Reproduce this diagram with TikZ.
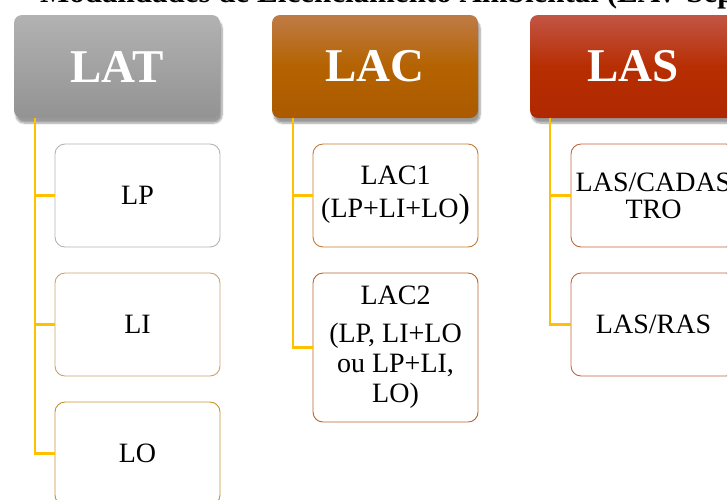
\documentclass[tikz,border=0pt]{standalone}
\usepackage{fontspec}
\setmainfont{Liberation Serif}
\usetikzlibrary{shadows.blur}
\definecolor{connY}{HTML}{FFC000}
\definecolor{latTop}{HTML}{B2B2B2}
\definecolor{latBot}{HTML}{939393}
\definecolor{lacTop}{HTML}{BE7B46}
\definecolor{lacMid}{HTML}{B56300}
\definecolor{lacBot}{HTML}{AB5A00}
\definecolor{lasTop}{HTML}{C25545}
\definecolor{lasMid}{HTML}{B72E02}
\definecolor{lasBot}{HTML}{B02800}
\definecolor{bLP}{HTML}{B4B4B4}
\definecolor{bLI}{HTML}{C8A46C}
\definecolor{bLO}{HTML}{C8922E}
\definecolor{bLACa}{HTML}{C27B34}
\definecolor{bLACb}{HTML}{B8652A}
\definecolor{bLAS}{HTML}{C2653E}
\tikzset{
  header/.style={rounded corners=8pt, minimum width=206pt, minimum height=103pt,
    inner sep=0pt, text=white, font=\fontsize{47}{47}\selectfont\bfseries,
    blur shadow={shadow xshift=2pt, shadow yshift=-5pt, shadow blur steps=8, shadow opacity=40}},
  leaf/.style={draw, line width=0.9pt, rounded corners=10pt, fill=white,
    minimum width=165pt, minimum height=103pt, inner sep=2pt, align=center,
    font=\fontsize{28}{30}\selectfont},
  conn/.style={draw=connY, line width=2.4pt}
}
\begin{document}
\begin{tikzpicture}[x=1pt, y=-1pt]
\useasboundingbox (0,0) rectangle (727,499);
\clip (0,0) rectangle (727,499);

% title line running off the top edge
\node[anchor=base west, inner sep=0pt, font=\fontsize{31}{31}\selectfont\bfseries] (title)
  at (40,2) {Modalidades de Licenciamento Ambiental (LAV Separado)};

% group headers
\node[header, top color=latTop, bottom color=latBot] (LAT) at (117,66.5) {LAT};
\node[header, top color=lacTop, bottom color=lacBot, middle color=lacMid] (LAC) at (375,66.5) {LAC};
\node[header, top color=lasTop, bottom color=lasBot, middle color=lasMid] (LAS) at (633,66.5) {LAS};

% LAT children
\node[leaf, draw=bLP] (LP) at (137.5,195.5) {LP};
\node[leaf, draw=bLI] (LI) at (137.5,324.5) {LI};
\node[leaf, draw=bLO] (LO) at (137.5,453.5) {LO};

% LAC children
\node[leaf, draw=bLACa] (LAC1) at (395.5,195.5)
  {LAC1\\[3pt](LP+LI+LO{\fontsize{34}{30}\selectfont)}};
\node[leaf, draw=bLACb, minimum height=149pt, font=\fontsize{28}{30}\selectfont] (LAC2) at (395.5,347.5)
  {LAC2\\[8pt](LP, LI+LO\\ou LP+LI,\\LO)};

% LAS children
\node[leaf, draw=bLAS, font=\fontsize{28}{27}\selectfont] (LAS1) at (653.5,195.5) {LAS/CADAS\\TRO};
\node[leaf, draw=bLAS] (LAS2) at (653.5,324.5) {LAS/RAS};

% connectors
\coordinate (tT) at ([xshift=21pt]LAT.south west);
\coordinate (tC) at ([xshift=21pt]LAC.south west);
\coordinate (tS) at ([xshift=20pt]LAS.south west);
\draw[conn] (tT) |- (LO.west);
\draw[conn] (tT) |- (LI.west);
\draw[conn] (tT) |- (LP.west);
\draw[conn] (tC) |- (LAC2.west);
\draw[conn] (tC) |- (LAC1.west);
\draw[conn] (tS) |- (LAS2.west);
\draw[conn] (tS) |- (LAS1.west);
\end{tikzpicture}
\end{document}
